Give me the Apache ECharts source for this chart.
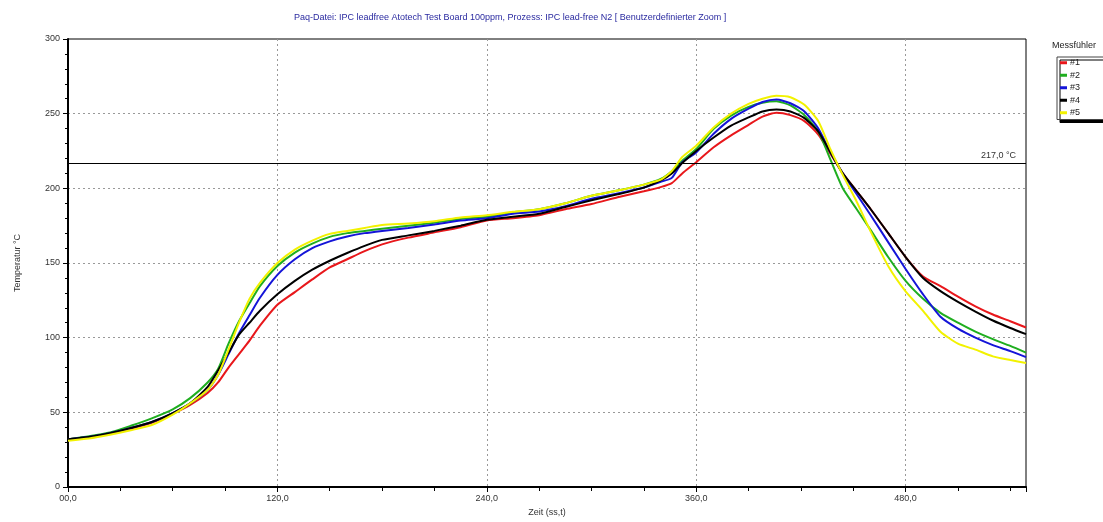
<!DOCTYPE html>
<html>
<head>
<meta charset="utf-8">
<script src="https://cdn.jsdelivr.net/npm/echarts@6/dist/echarts.min.js"></script>
<style>
html,body{margin:0;padding:0;background:#fff;}
#chart{width:1103px;height:522px;}
</style>
</head>
<body>
<div id="chart"></div>
<script>
const titleText = 'Paq-Datei: IPC leadfree Atotech Test Board 100ppm, Prozess: IPC lead-free N2 [ Benutzerdefinierter Zoom ]';
const seriesNames = ['#1', '#2', '#3', '#4', '#5'];
const seriesColors = ['#e8171b', '#1fae1f', '#1414d8', '#000000', '#f2f200'];
const xTickValues = [0, 120, 240, 360, 480];
const xTickLabels = ['00,0', '120,0', '240,0', '360,0', '480,0'];
const liquidus = 217;
const liquidusLabel = '217,0 °C';

const times = [0,12,24,36,48,60,70,80,86,92,98,104,110,120,130,140,150,160,170,180,195,210,225,240,255,270,285,300,315,330,340,346,352,360,370,380,390,398,406,414,422,430,437,444,452,460,470,480,490,500,510,520,530,540,549];

const probe1 = [32,33.5,36,39,43,49,55,63,70,80,89,98,108,122,130.5,139,147,152.5,158,162.5,167,170.5,174,178.5,180,182,186,189.5,194,198,201,203.5,210,217.5,227.5,235.5,242.5,248,250.6,249,245,236,223,210,198,186,170,154,141,134.5,127.5,121,115.5,111,106.8];
const probe2 = [32,34,36.5,41,46,52,59.5,70,79,96,111,123,134.5,148,157,163,167.5,170,171.5,173,175,177,179.5,181,184,186,190,195,198.5,202.5,206.5,211.5,218.5,226.3,239.8,248.7,254.5,257.3,258.3,255.5,249,238,219,200,186,172,154,138,126,116.6,110,104,99,94.5,90];
const probe3 = [32,33.5,36,39.5,43.5,49.5,56,65,75,89,103,115,126.7,142,152.5,160,164.5,167.7,170,171.5,173.5,175.8,178.5,180,183,184.5,188,193,196.5,200.5,204.5,207,217.5,224,236.5,246.5,253.3,257.8,259.5,257,251.5,240,224,210,196,182,164,146,129,114,106,100,95,91,87];
const probe4 = [32,33.5,36,39.5,43.5,49.5,56,67,78,90,102,110,118,129,138,145.5,151.5,156.7,161.5,165.5,168.5,171.5,175,179,181,183,187.5,192,196,200.5,205.5,210,217,225,234,242,247.5,251.5,252.8,251.5,247,238,224,210,198,186,170,154,140,131.2,124,117.5,111.5,106.5,102.4];
const probe5 = [31,32.5,35,38,41.5,48.5,56,65,75,92,110,126,136.7,150,159,165,169.5,171.5,173.5,175.5,176.5,178,180.5,182,184.3,186,190,195,198.5,202.5,206,211.5,221,228.5,240.8,250,256.5,260,262,261,256,245,226,209,191,171,148,131,118,104,96,92,87.5,85,83];

const probes = [probe1, probe2, probe3, probe4, probe5];

const chart = echarts.init(document.getElementById('chart'), null, {renderer: 'canvas'});

const series = probes.map((vals, i) => {
  const s = {
    name: seriesNames[i],
    type: 'line',
    data: times.map((t, k) => [t, vals[k]]),
    showSymbol: false,
    smooth: 0.2,
    color: seriesColors[i],
    lineStyle: {width: 2, color: seriesColors[i]},
    emphasis: {disabled: true},
    z: 3 + i
  };
  if (i === 0) {
    s.markLine = {
      silent: true,
      symbol: 'none',
      animation: false,
      data: [{yAxis: liquidus}],
      lineStyle: {color: '#000', type: 'solid', width: 1},
      label: {position: 'insideEndTop', formatter: liquidusLabel, color: '#333', fontSize: 9, distance: [10, 3]}
    };
  }
  return s;
});

const option = {
  animation: false,
  textStyle: {fontFamily: 'Liberation Sans, Arial, sans-serif'},
  title: {
    text: titleText,
    left: 289, top: 8,
    textStyle: {fontSize: 9, color: '#2a2aa0', fontWeight: 'normal', fontFamily: 'Liberation Sans, Arial, sans-serif'}
  },
  legend: {
    orient: 'vertical',
    left: 1057, top: 57,
    itemWidth: 7, itemHeight: 3, itemGap: 1,
    icon: 'rect',
    padding: [0, 40, 1, 3],
    backgroundColor: '#fff',
    borderColor: '#444', borderWidth: 1,
    shadowColor: '#000', shadowOffsetX: 3, shadowOffsetY: 3, shadowBlur: 0,
    textStyle: {fontSize: 9, color: '#222', lineHeight: 11.5, padding: [0, 0, 0, -2]},
    data: seriesNames,
    selectedMode: false
  },
  graphic: [{
    type: 'text', left: 1052, top: 41,
    style: {text: 'Messfühler', fontSize: 9, fill: '#222', fontFamily: 'Liberation Sans, Arial, sans-serif'}
  }],
  grid: {left: 68, right: 77, top: 39, bottom: 31, show: true, borderColor: '#000', borderWidth: 1, backgroundColor: '#fff'},
  xAxis: {
    type: 'value', min: 0, max: 549, interval: 120,
    name: 'Zeit (ss,t)', nameLocation: 'middle', nameGap: 21,
    nameTextStyle: {fontSize: 9, color: '#333'},
    axisLine: {show: true, lineStyle: {color: '#000', width: 2}},
    axisTick: {show: true, length: 5, lineStyle: {color: '#000', width: 1}},
    minorTick: {show: true, splitNumber: 4, length: 4, lineStyle: {color: '#000', width: 1}},
    splitLine: {show: true, showMinLine: false, showMaxLine: false, lineStyle: {type: [2, 3], color: '#999', width: 1}},
    axisLabel: {
      fontSize: 9, color: '#333', margin: 7, showMaxLabel: false,
      formatter: v => { const k = xTickValues.indexOf(v); return k >= 0 ? xTickLabels[k] : ''; }
    }
  },
  yAxis: {
    type: 'value', min: 0, max: 300, interval: 50,
    name: 'Temperatur °C', nameLocation: 'middle', nameGap: 46,
    nameTextStyle: {fontSize: 9, color: '#333'},
    axisLine: {show: true, lineStyle: {color: '#000', width: 2}},
    axisTick: {show: true, length: 5, lineStyle: {color: '#000', width: 1}},
    minorTick: {show: true, splitNumber: 5, length: 3, lineStyle: {color: '#000', width: 1}},
    splitLine: {show: true, showMinLine: false, showMaxLine: false, lineStyle: {type: [2, 3], color: '#999', width: 1}},
    axisLabel: {fontSize: 9, color: '#333', margin: 8}
  },
  series: series
};

chart.setOption(option);
</script>
</body>
</html>
